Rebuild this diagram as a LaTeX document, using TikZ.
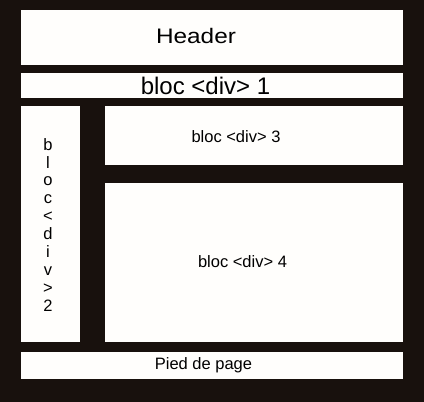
\documentclass[tikz,border=0pt]{standalone}
\usepackage{fontspec}
\setmainfont{Liberation Sans}
\definecolor{bgdark}{RGB}{24,17,13}
\definecolor{boxwhite}{RGB}{255,254,252}
\begin{document}
\begin{tikzpicture}[x=1pt,y=-1pt,
  blockbox/.style={draw=none,fill=boxwhite,inner sep=0pt,outer sep=0pt},
  lbl/.style={inner sep=0pt,anchor=base,text=black},
  smalltxt/.style={lbl,font=\fontsize{16.5}{17.9}\selectfont},
]
\fill[bgdark] (0,0) rectangle (424,402);
\useasboundingbox (0,0) rectangle (424,402);
% blocks
\path[blockbox] (21,10) rectangle (403,65) node[midway] (header) {};
\path[blockbox] (21,73) rectangle (403,98) node[midway] (bloc1) {};
\path[blockbox] (21,106) rectangle (80,342) node[midway] (bloc2) {};
\path[blockbox] (105,106) rectangle (403,165) node[midway] (bloc3) {};
\path[blockbox] (105,183) rectangle (403,342) node[midway] (bloc4) {};
\path[blockbox] (21,352) rectangle (403,379) node[midway] (footer) {};
% labels
\node[lbl,font=\fontsize{21}{24}\selectfont] (theader) at (196,43) {\scalebox{1.16}[1]{Header}};
\node[lbl,font=\fontsize{24}{26}\selectfont] (tbloc1) at (205.5,94) {bloc <div> 1};
\node[smalltxt] (tbloc3) at (236,142) {bloc <div> 3};
\node[smalltxt] (tbloc4) at (242.5,267) {bloc <div> 4};
\node[smalltxt] (tfooter) at (203.5,369) {Pied de page};
\node[smalltxt,anchor=north,align=center] (tbloc2) at (48,138)
  {b\\l\\o\\c\\<\\d\\i\\v\\>\\2};
\end{tikzpicture}
\end{document}
